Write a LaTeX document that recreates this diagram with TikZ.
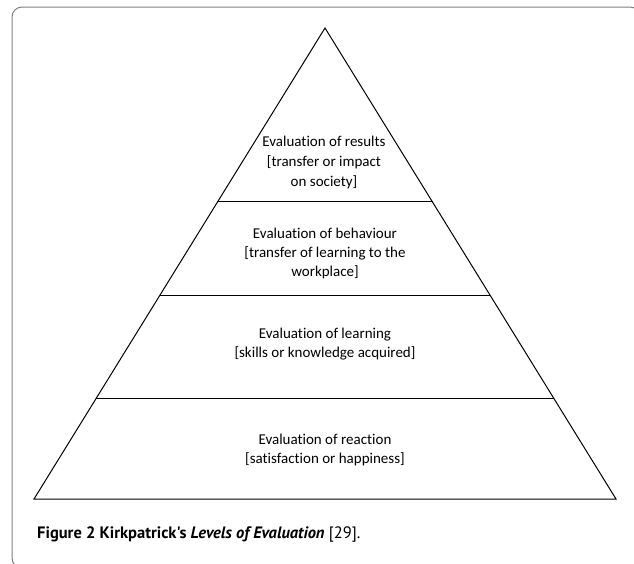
\documentclass[tikz,border=0pt]{standalone}
\usepackage{fontspec}
\setmainfont[Ligatures={NoCommon}]{Carlito}
\newfontfamily\capfont{PT Sans}
\usetikzlibrary{positioning,calc}

\begin{document}
\begin{tikzpicture}[x=1pt, y=-1pt,
      level/.style={align=center, font=\fontsize{15}{19}\selectfont, inner sep=0pt},
      pyramid/.style={line width=1pt, black}]

      \useasboundingbox (0,0) rectangle (634,563);

      % Frame around the figure
      \begin{scope}
          \clip (0,0) rectangle (634,563);
          \draw[gray, line width=1pt, rounded corners=10pt] (12,7) rectangle (640,568);
      \end{scope}

      % Corners of the pyramid
      \coordinate (apex) at (325,28);
      \coordinate (leftbase) at (34,499);
      \coordinate (rightbase) at (616,499);

      % Draw the pyramid outline
      \draw[pyramid, line join=miter] (apex) -- (leftbase) -- (rightbase) -- cycle;

      % Draw the level dividers
      \foreach \t/\name in {0.3694/one, 0.5669/two, 0.7856/three} {
          \draw[pyramid] ($(apex)!\t!(leftbase)$) coordinate (\name-l)
              -- ($(apex)!\t!(rightbase)$) coordinate (\name-r);
      }

      % Labels of the four levels
      \node(results)[level] at (324,162) {Evaluation of results\\[1pt] {[}transfer or impact\\[1pt] on society{]}};
      \node(behaviour)[level] at (325,253) {Evaluation of behaviour\\ {[}transfer of learning to the\\ workplace{]}};
      \node(learning)[level] at (325,344) {Evaluation of learning\\ {[}skills or knowledge acquired{]}};
      \node(reaction)[level] at (325,450) {Evaluation of reaction\\ {[}satisfaction or happiness{]}};

      % Caption below the pyramid
      \node(caption)[anchor=west, inner sep=0pt, font=\capfont\fontsize{16.5}{20}\selectfont] at (37,534)
          {\textbf{Figure 2 Kirkpatrick's \textit{Levels of Evaluation}} [29].};

\end{tikzpicture}
\end{document}
